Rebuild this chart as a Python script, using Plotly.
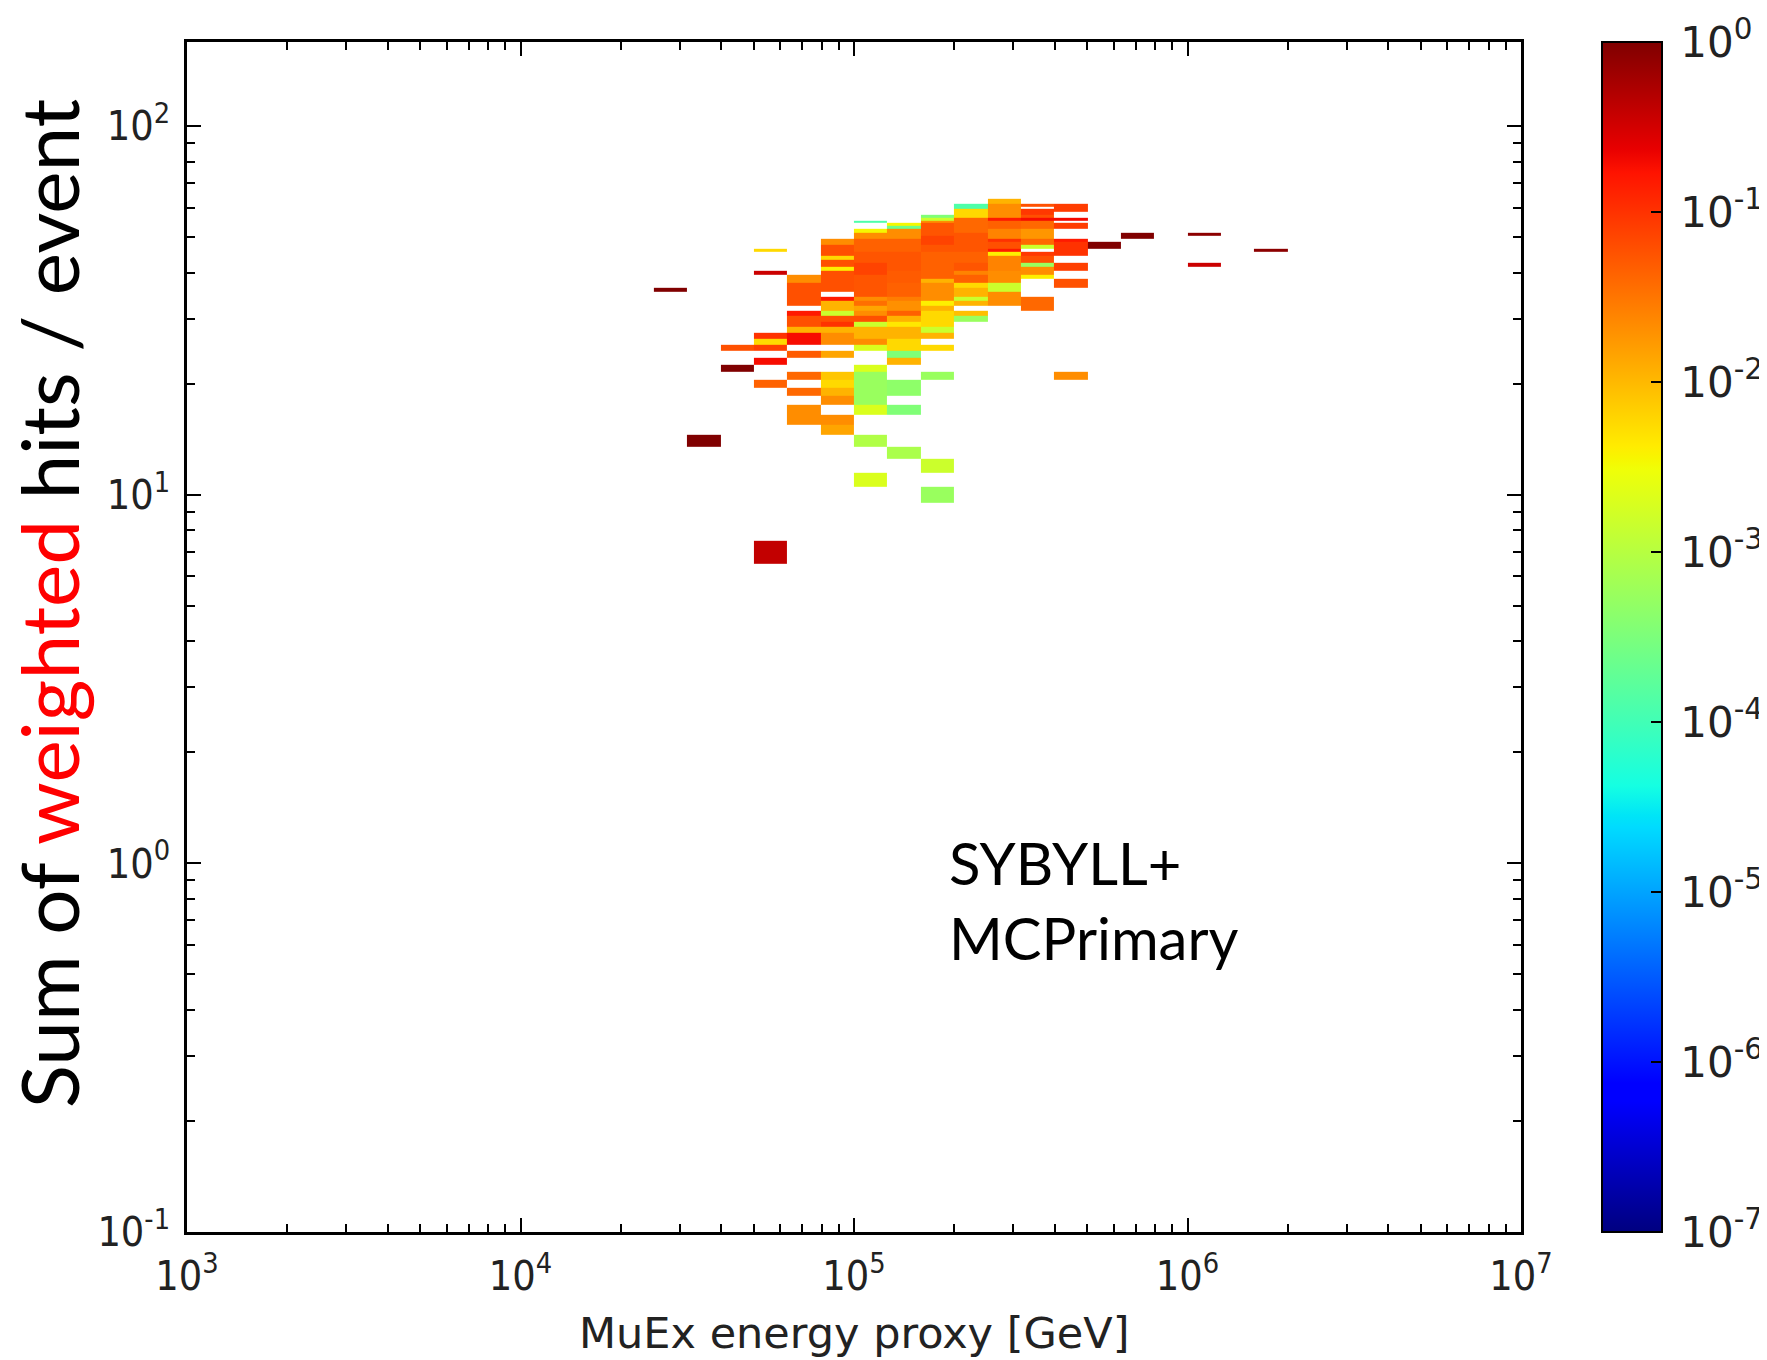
import numpy as np
import plotly.graph_objects as go

# ---------------- data ----------------
# x bins: lower edge of each column in log10(E/GeV), bins are 0.1 decade wide
col_logE = [4.4, 4.5, 4.6, 4.7, 4.8, 4.9, 5.0, 5.1, 5.2, 5.3,
            5.4, 5.5, 5.6, 5.7, 5.8, 5.9, 6.0, 6.1, 6.2]
# y bins: unit-wide bins centred on the integer hit sums
hit_rows = list(range(6, 66))

# per column: runs of (first row, last row, weight per event)
col_4_4 = [(36, 36, 1.0)]
col_4_5 = [(14, 14, 1.0)]
col_4_6 = [(25, 25, 0.06), (22, 22, 1.0)]
col_4_7 = [(46, 46, 0.0058), (40, 40, 0.35), (27, 27, 0.1), (26, 26, 0.0058),
           (25, 25, 0.08), (23, 23, 0.19), (20, 20, 0.045), (7, 7, 0.4)]
col_4_8 = [(38, 39, 0.021), (33, 37, 0.06), (31, 31, 0.15), (29, 30, 0.06),
           (28, 28, 0.011), (26, 27, 0.19), (24, 24, 0.05), (21, 21, 0.04),
           (19, 19, 0.04), (16, 17, 0.021)]
col_4_9 = [(48, 49, 0.021), (45, 47, 0.06), (44, 44, 0.0058), (42, 43, 0.06),
           (41, 41, 0.004), (36, 40, 0.06), (34, 34, 0.15), (32, 33, 0.011),
           (31, 31, 0.0015), (30, 30, 0.06), (29, 29, 0.1), (28, 28, 0.011),
           (26, 27, 0.021), (24, 24, 0.014), (21, 21, 0.008), (20, 20, 0.0058),
           (19, 19, 0.011), (18, 18, 0.021), (16, 16, 0.021), (15, 15, 0.014)]
col_5_0 = [(55, 55, 1.3e-4), (52, 52, 0.0035), (50, 51, 0.021), (46, 49, 0.045),
           (43, 45, 0.055), (40, 42, 0.075), (35, 39, 0.055), (34, 34, 0.021),
           (33, 33, 0.035), (32, 32, 0.014), (31, 31, 0.021), (30, 30, 0.06),
           (29, 29, 0.0015), (27, 28, 0.011), (26, 26, 0.021), (25, 25, 0.002),
           (22, 22, 0.002), (18, 21, 5.6e-4), (17, 17, 0.002), (14, 14, 9e-4),
           (11, 11, 0.002)]
col_5_1 = [(54, 54, 0.0035), (53, 53, 2.5e-4), (50, 52, 0.021), (46, 49, 0.045),
           (41, 45, 0.055), (38, 40, 0.05), (35, 37, 0.045), (34, 34, 0.028),
           (32, 33, 0.02), (31, 31, 0.045), (30, 30, 0.011), (29, 29, 0.0045),
           (27, 28, 0.011), (25, 26, 0.0058), (24, 24, 3.4e-4), (23, 23, 0.011),
           (19, 20, 4.5e-4), (17, 17, 3.4e-4), (13, 13, 8e-4)]
col_5_2 = [(57, 57, 3.4e-4), (56, 56, 0.0015), (55, 55, 0.021), (51, 54, 0.055),
           (48, 50, 0.075), (46, 47, 0.055), (39, 45, 0.045), (38, 38, 0.011),
           (34, 37, 0.021), (33, 33, 0.004), (32, 32, 0.011), (29, 31, 0.0058),
           (28, 28, 0.0015), (27, 27, 0.011), (25, 25, 0.0058), (21, 21, 5.6e-4),
           (12, 12, 0.0015), (10, 10, 5.6e-4)]
col_5_3 = [(60, 61, 1.3e-4), (57, 59, 0.0058), (52, 56, 0.04), (46, 51, 0.055),
           (43, 45, 0.045), (41, 42, 0.055), (40, 40, 0.025), (38, 39, 0.045),
           (37, 37, 0.0058), (35, 36, 0.011), (34, 34, 0.0015), (33, 33, 0.011),
           (31, 31, 0.009), (30, 30, 5.6e-4)]
col_5_4 = [(62, 63, 0.011), (57, 61, 0.021), (56, 56, 0.15), (53, 55, 0.045),
           (50, 52, 0.025), (49, 49, 0.1), (47, 48, 0.06), (46, 46, 0.15),
           (45, 45, 0.004), (41, 44, 0.025), (38, 40, 0.021), (36, 37, 0.0015),
           (33, 35, 0.021)]
col_5_5 = [(61, 61, 0.06), (58, 59, 0.09), (57, 57, 0.06), (56, 56, 0.19),
           (53, 55, 0.04), (50, 52, 0.018), (48, 49, 0.04), (47, 47, 0.0015),
           (45, 45, 0.09), (43, 44, 0.06), (42, 42, 5.6e-4), (40, 41, 0.021),
           (39, 39, 0.004), (32, 34, 0.04)]
col_5_6 = [(59, 61, 0.085), (56, 56, 0.2), (53, 54, 0.085), (49, 49, 0.15),
           (45, 48, 0.1), (41, 42, 0.08), (37, 38, 0.06), (21, 21, 0.021)]
col_5_7 = [(47, 48, 1.0)]
col_5_8 = [(50, 51, 1.0)]
col_5_9 = []
col_6_0 = [(51, 51, 0.85), (42, 42, 0.35)]
col_6_1 = []
col_6_2 = [(46, 46, 0.85)]

columns = [col_4_4, col_4_5, col_4_6, col_4_7, col_4_8, col_4_9, col_5_0,
           col_5_1, col_5_2, col_5_3, col_5_4, col_5_5, col_5_6, col_5_7,
           col_5_8, col_5_9, col_6_0, col_6_1, col_6_2]

x_tick_exp = [3, 4, 5, 6, 7]
y_tick_exp = [-1, 0, 1, 2]
cbar_tick_exp = [-7, -6, -5, -4, -3, -2, -1, 0]

# ---------------- build the histogram table ----------------
z = np.full((len(hit_rows), len(col_logE)), np.nan)
for j, runs in enumerate(columns):
    for lo, hi, w in runs:
        for h in range(lo, hi + 1):
            z[hit_rows.index(h), j] = np.log10(w)

x_edges = [10 ** e for e in col_logE] + [10 ** (col_logE[-1] + 0.1)]
y_edges = [h - 0.5 for h in hit_rows] + [hit_rows[-1] + 0.5]

# matplotlib "jet" colormap
stops = sorted({0, .11, .125, .34, .35, .375, .64, .65, .66, .89, .91, 1})
def _jet(t):
    r = np.interp(t, [0, .35, .66, .89, 1], [0, 0, 1, 1, .5])
    g = np.interp(t, [0, .125, .375, .64, .91, 1], [0, 0, 1, 1, 0, 0])
    b = np.interp(t, [0, .11, .34, .65, 1], [.5, 1, 1, 0, 0])
    return f"rgb({int(round(r*255))},{int(round(g*255))},{int(round(b*255))})"
jet = [[t, _jet(t)] for t in stops]

TICKFONT = dict(family="DejaVu Sans Condensed, DejaVu Sans", size=41, color="#222222")

fig = go.Figure()
fig.add_trace(go.Heatmap(
    x=x_edges, y=y_edges, z=z,
    colorscale=jet, zmin=-7, zmax=0,
    hovertemplate="E=%{x:.3g} GeV<br>hits=%{y}<br>log10 w=%{z:.2f}<extra></extra>",
    colorbar=dict(
        x=1.0609, xanchor="left", y=0.5, yanchor="middle",
        len=1, lenmode="fraction", thickness=60, thicknessmode="pixels",
        xpad=0, ypad=0,
        outlinewidth=2, outlinecolor="black",
        tickmode="array", tickvals=cbar_tick_exp,
        ticktext=[f"\u200910<sup>{k}</sup>" for k in cbar_tick_exp],
        ticks="inside", ticklen=12, tickwidth=2, tickcolor="black",
        tickfont=dict(family="DejaVu Sans", size=42, color="#222222"),
    ),
))

axis_common = dict(
    type="log", showgrid=False, zeroline=False,
    showline=True, linecolor="black", linewidth=2.5, mirror="allticks",
    ticks="inside", ticklen=14, tickwidth=2, tickcolor="black",
    tickfont=TICKFONT, automargin=False,
)

fig.update_xaxes(
    **axis_common, range=[3, 7],
    tickmode="array", tickvals=[10 ** k for k in x_tick_exp],
    ticktext=[f"10<sup>{k}</sup>" for k in x_tick_exp],
    minor=dict(tickmode="array",
               tickvals=[m * 10 ** k for k in x_tick_exp[:-1] for m in range(2, 10)],
               ticks="inside", ticklen=8, tickwidth=1.5, tickcolor="black"),
    ticklabelstandoff=6,
)
fig.update_yaxes(
    **axis_common, range=[-1, 2.228],
    tickmode="array", tickvals=[10 ** k for k in y_tick_exp],
    ticktext=[f"10<sup>{k}</sup>" for k in y_tick_exp],
    minor=dict(tickmode="array",
               tickvals=[m * 10 ** k for k in y_tick_exp for m in range(2, 10)],
               ticks="inside", ticklen=8, tickwidth=1.5, tickcolor="black"),
    ticklabelstandoff=6,
)

# the page body adds an 8 px offset, so the figure is 8 px smaller than the window
fig.update_layout(
    width=1759, height=1352,
    margin=dict(l=179, r=246, t=34, b=128, autoexpand=False),
    paper_bgcolor="white", plot_bgcolor="white",
    showlegend=False,
    annotations=[
        dict(text='Sum of <span style="color:#ff0000">weighted</span> hits / event',
             xref="paper", yref="paper", x=-0.1045, y=0.528,
             xanchor="center", yanchor="middle", textangle=-90, showarrow=False,
             borderpad=0,
             font=dict(family="Lato", size=80, color="black")),
        dict(text="MuEx energy proxy [GeV]",
             xref="paper", yref="paper", x=0.5, y=-0.085,
             xanchor="center", yanchor="middle", showarrow=False,
             font=dict(family="DejaVu Sans", size=43, color="#222222")),
        dict(text="SYBYLL+<br>MCPrimary",
             xref="paper", yref="paper", x=0.5695, y=0.2787,
             xanchor="left", yanchor="middle", align="left", showarrow=False,
             font=dict(family="Lato", size=58, color="black")),
    ],
)

fig.write_html("out.html")
